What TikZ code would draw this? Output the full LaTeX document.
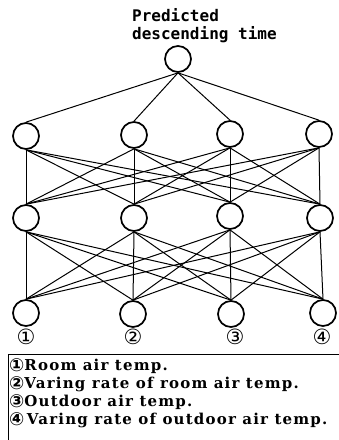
\documentclass[tikz,border=0pt]{standalone}
\usepackage{fontspec}
\setmainfont{DejaVu Serif}
\newfontfamily\monofont{DejaVu Sans Mono}
\newfontfamily\symfont{DejaVu Sans}
\newfontfamily\legendfont[LetterSpace=8]{DejaVu Serif}
\newcommand{\cdig}[1]{\raisebox{-1pt}{\symfont\fontsize{18}{18}\selectfont #1}}
\begin{document}
\begin{tikzpicture}[x=1pt,y=-1pt,
  neuron/.style={circle,draw,line width=1.7pt,minimum size=26pt,inner sep=0pt},
  link/.style={line width=1pt},
  numlabel/.style={font=\symfont\fontsize{21}{21}\selectfont},
  legend/.style={anchor=base west,inner sep=0pt,font=\legendfont\bfseries\fontsize{15}{18}\selectfont}]
\useasboundingbox (0,0) rectangle (339,440);
\node[anchor=base west,inner sep=0pt,align=left,font=\monofont\bfseries\fontsize{16}{18}\selectfont] (title) at (132,39) {Predicted\\descending time};
\node[neuron] (top) at (178,59) {};
\foreach \i/\x/\y in {1/26/136,2/134/135,3/230/134,4/319/134} \node[neuron] (a\i) at (\x,\y) {};
\foreach \i/\x/\y in {1/26/218,2/134/218,3/230/216,4/320/218} \node[neuron] (b\i) at (\x,\y) {};
\foreach \i/\x/\y in {1/26/313,2/133/314,3/231/314,4/323/313} \node[neuron] (c\i) at (\x,\y) {};
\foreach \i in {1,...,4} \draw[link] (top.south) -- (a\i.north);
\foreach \i in {1,...,4} \foreach \j in {1,...,4} {
  \draw[link] (a\i.south) -- (b\j.north);
  \draw[link] (b\i.south) -- (c\j.north);
}
\node[numlabel] (n1) at (26,337) {①};
\node[numlabel] (n2) at (133,337) {②};
\node[numlabel] (n3) at (235,337) {③};
\node[numlabel] (n4) at (322,337) {④};
\coordinate (bl) at (8,440);
\coordinate (tl) at (8,354);
\coordinate (tr) at (339,354);
\draw[line width=0.8pt] (bl) -- (tl) -- (tr);
\node[legend] (l1) at (9,370) {\cdig{①}Room air temp.};
\node[legend] (l2) at (9,388) {\cdig{②}Varing rate of room air temp.};
\node[legend] (l3) at (9,406) {\cdig{③}Outdoor air temp.};
\node[legend] (l4) at (9,424) {\cdig{④}\,Varing rate of outdoor air temp.};
\end{tikzpicture}
\end{document}
